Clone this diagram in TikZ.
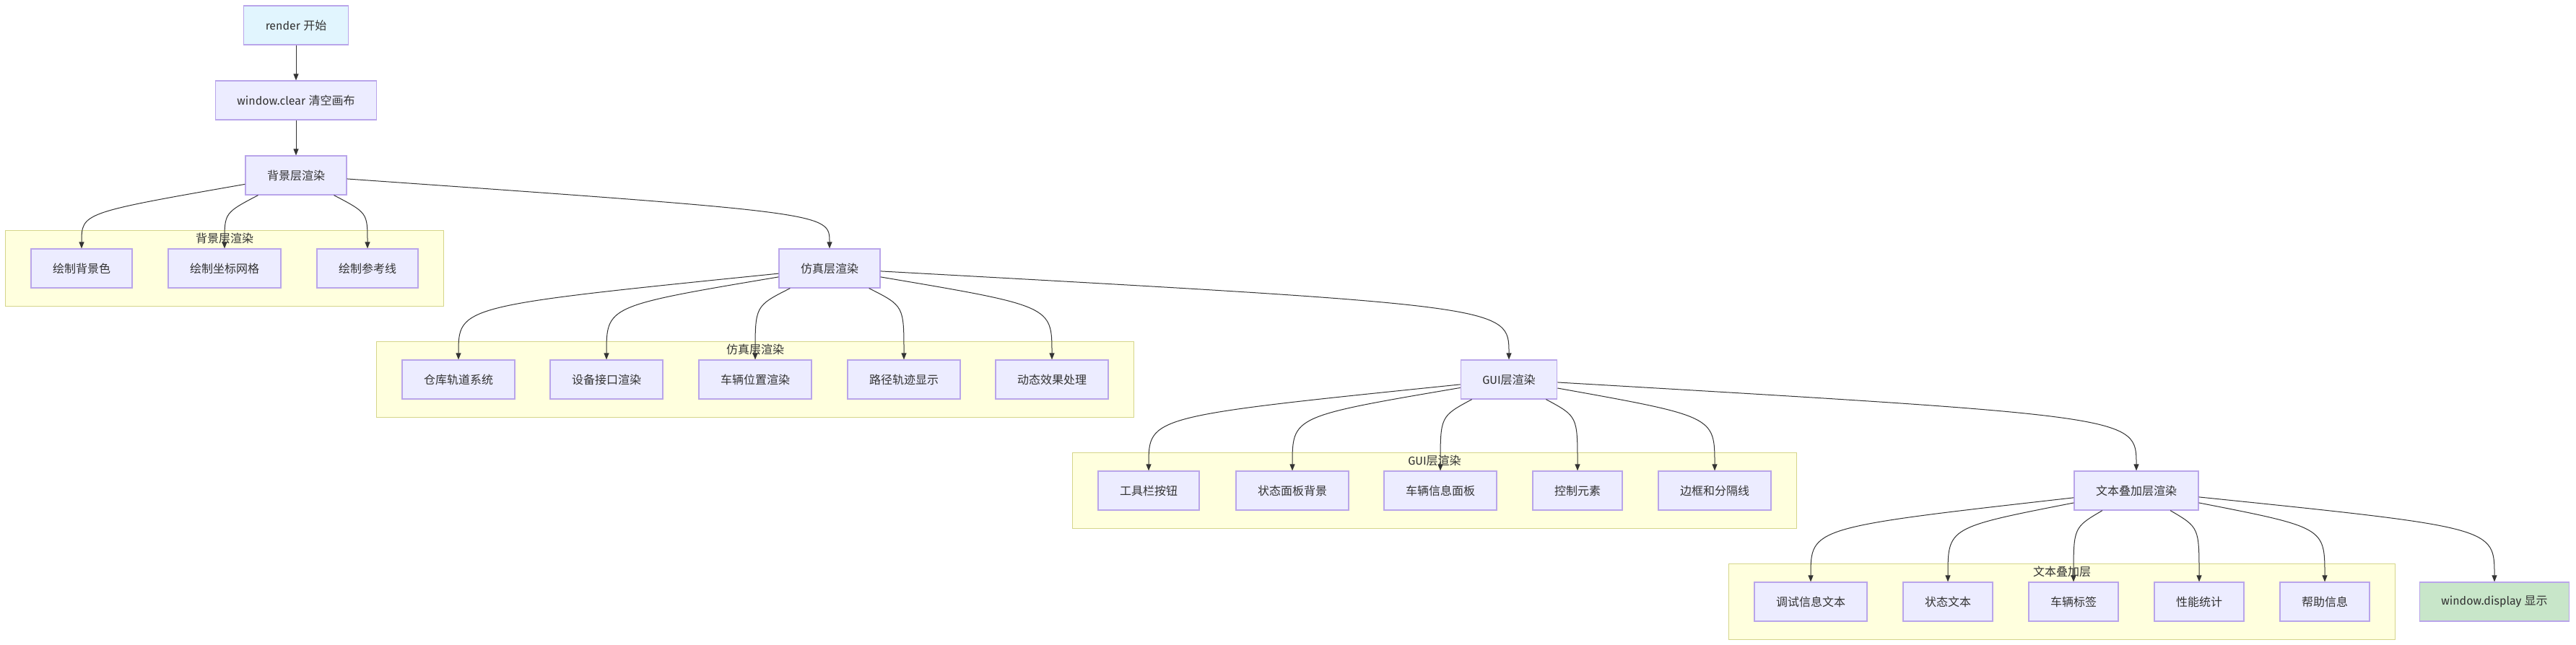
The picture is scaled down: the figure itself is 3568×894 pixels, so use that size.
\documentclass[tikz,border=0pt]{standalone}
\usepackage{fontspec}
\setmainfont{Noto Sans CJK SC}
\newfontfamily\latin{Fira Sans}
\usepackage{xcolor}
\usetikzlibrary{arrows.meta}
\usetikzlibrary{fit}
\usetikzlibrary{backgrounds}
\definecolor{nodefill}{HTML}{ECECFF}
\definecolor{nodeline}{HTML}{B9A5EA}
\definecolor{startfill}{HTML}{E1F5FE}
\definecolor{endfill}{HTML}{C8E6C9}
\definecolor{groupfill}{HTML}{FFFFDE}
\definecolor{groupline}{HTML}{D5D58A}
\definecolor{inkgray}{HTML}{333333}
\newcommand{\flowarrow}{-{Triangle[length=9pt,width=7pt]}}
\tikzset{
	box/.style={draw=nodeline,fill=nodefill,line width=1.2pt,minimum height=54pt,inner xsep=30pt,text=inkgray,font=\fontsize{16}{19}\selectfont},
	group/.style={draw=groupline,fill=groupfill,line width=1.2pt,inner xsep=35pt,inner ysep=25pt},
	grouplabel/.style={text=inkgray,font=\fontsize{16}{19}\selectfont,inner sep=0pt},
	flow/.style={draw=inkgray,line width=1pt},
}

\begin{document}
\begin{tikzpicture}[x=1pt,y=-1pt]
		\useasboundingbox (0,0) rectangle (3568,894);
		% main chain
		\node[box,fill=startfill] (start) at (410,35) {{\latin render }开始};
		\node[box] (clear) at (410,139) {{\latin window.clear }清空画布};
		\node[box] (bg) at (410,243) {背景层渲染};
		\node[box] (sim) at (1149,372) {仿真层渲染};
		\node[box] (gui) at (2090,526) {{\latin GUI}层渲染};
		\node[box] (txt) at (2959,680) {文本叠加层渲染};
		\node[box,fill=endfill] (disp) at (3455,834) {{\latin window.display }显示};
		% background layer
		\node[box] (bgA) at (113,372) {绘制背景色};
		\node[box] (bgB) at (311,372) {绘制坐标网格};
		\node[box] (bgC) at (509,372) {绘制参考线};
		% simulation layer
		\node[box] (simA) at (635,526) {仓库轨道系统};
		\node[box] (simB) at (840,526) {设备接口渲染};
		\node[box] (simC) at (1046,526) {车辆位置渲染};
		\node[box] (simD) at (1252,526) {路径轨迹显示};
		\node[box] (simE) at (1457,526) {动态效果处理};
		% gui layer
		\node[box] (guiA) at (1591,680) {工具栏按钮};
		\node[box] (guiB) at (1790,680) {状态面板背景};
		\node[box] (guiC) at (1995,680) {车辆信息面板};
		\node[box] (guiD) at (2185,680) {控制元素};
		\node[box] (guiE) at (2375,680) {边框和分隔线};
		% text overlay
		\node[box] (txtA) at (2508,834) {调试信息文本};
		\node[box] (txtB) at (2698,834) {状态文本};
		\node[box] (txtC) at (2872,834) {车辆标签};
		\node[box] (txtD) at (3046,834) {性能统计};
		\node[box] (txtE) at (3220,834) {帮助信息};
		% groups
		\begin{scope}[on background layer]
			\node[group,fit=(bgA)(bgC)] (bgbox) {};
			\node[group,fit=(simA)(simE)] (simbox) {};
			\node[group,fit=(guiA)(guiE)] (guibox) {};
			\node[group,fit=(txtA)(txtE)] (txtbox) {};
		\end{scope}
		\node[grouplabel] (bglabel) at ([yshift=-12pt]bgbox.north) {背景层渲染};
		\node[grouplabel] (simlabel) at ([yshift=-12pt]simbox.north) {仿真层渲染};
		\node[grouplabel] (guilabel) at ([yshift=-12pt]guibox.north) {{\latin GUI}层渲染};
		\node[grouplabel] (txtlabel) at ([yshift=-12pt]txtbox.north) {文本叠加层};
		% bend levels
		\coordinate (k1) at (0,295);
		\coordinate (k2) at (0,424);
		\coordinate (k3) at (0,577);
		\coordinate (k4) at (0,731);
		% edges
		\draw[flow,\flowarrow] (start) -- (clear);
		\draw[flow,\flowarrow] (clear) -- (bg);
		\draw[flow,\flowarrow] (bg) .. controls (bgA.north |- k1) .. (bgA.north);
		\draw[flow,\flowarrow] (bg) .. controls (bgB.north |- k1) .. (bgB.north);
		\draw[flow,\flowarrow] (bg) .. controls (bgC.north |- k1) .. (bgC.north);
		\draw[flow,\flowarrow] (bg) .. controls (sim.north |- k1) .. (sim.north);
		\draw[flow,\flowarrow] (sim) .. controls (simA.north |- k2) .. (simA.north);
		\draw[flow,\flowarrow] (sim) .. controls (simB.north |- k2) .. (simB.north);
		\draw[flow,\flowarrow] (sim) .. controls (simC.north |- k2) .. (simC.north);
		\draw[flow,\flowarrow] (sim) .. controls (simD.north |- k2) .. (simD.north);
		\draw[flow,\flowarrow] (sim) .. controls (simE.north |- k2) .. (simE.north);
		\draw[flow,\flowarrow] (sim) .. controls (gui.north |- k2) .. (gui.north);
		\draw[flow,\flowarrow] (gui) .. controls (guiA.north |- k3) .. (guiA.north);
		\draw[flow,\flowarrow] (gui) .. controls (guiB.north |- k3) .. (guiB.north);
		\draw[flow,\flowarrow] (gui) .. controls (guiC.north |- k3) .. (guiC.north);
		\draw[flow,\flowarrow] (gui) .. controls (guiD.north |- k3) .. (guiD.north);
		\draw[flow,\flowarrow] (gui) .. controls (guiE.north |- k3) .. (guiE.north);
		\draw[flow,\flowarrow] (gui) .. controls (txt.north |- k3) .. (txt.north);
		\draw[flow,\flowarrow] (txt) .. controls (txtA.north |- k4) .. (txtA.north);
		\draw[flow,\flowarrow] (txt) .. controls (txtB.north |- k4) .. (txtB.north);
		\draw[flow,\flowarrow] (txt) .. controls (txtC.north |- k4) .. (txtC.north);
		\draw[flow,\flowarrow] (txt) .. controls (txtD.north |- k4) .. (txtD.north);
		\draw[flow,\flowarrow] (txt) .. controls (txtE.north |- k4) .. (txtE.north);
		\draw[flow,\flowarrow] (txt) .. controls (disp.north |- k4) .. (disp.north);
\end{tikzpicture}
\end{document}
